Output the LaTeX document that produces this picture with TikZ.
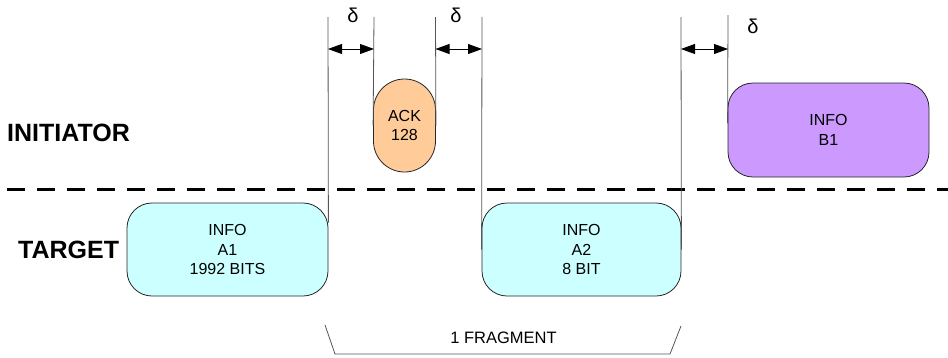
\documentclass[tikz,border=0pt]{standalone}
\usepackage{fontspec}
\setmainfont{Liberation Sans}
\usetikzlibrary{arrows.meta}

\definecolor{infocyan}{HTML}{CCFFFF}
\definecolor{ackorange}{HTML}{FFCC99}
\definecolor{infoviolet}{HTML}{CC99FF}
\definecolor{guide}{HTML}{555555}

\tikzset{
  frame/.style={draw=black!85, line width=0.8pt, rounded corners=25pt,
    inner sep=0pt, align=center, font=\fontsize{16}{19.2}\selectfont},
  rolelabel/.style={inner sep=0pt, anchor=west,
    font=\fontsize{25}{30}\selectfont\bfseries},
  guideline/.style={draw=guide, line width=0.8pt},
  gap/.style={draw=black, line width=0.8pt,
    {Triangle[length=14pt,width=10pt]}-{Triangle[length=14pt,width=10pt]}},
  deltalabel/.style={inner sep=0pt, font=\fontsize{20}{24}\selectfont},
  separator/.style={draw=black, line width=3pt, dash pattern=on 18pt off 12pt},
}

\begin{document}
\begin{tikzpicture}[x=1pt,y=-1pt]
  \useasboundingbox (0,0) rectangle (948,357);

  % frames on the two sides of the link
  \node[frame, fill=infocyan, minimum width=201pt, minimum height=93pt]
    (A1) at (227.5,249.5) {INFO\\A1\\1992 BITS};
  \node[frame, fill=infocyan, minimum width=199pt, minimum height=93pt]
    (A2) at (581.5,249.5) {INFO\\A2\\8 BIT};
  \node[frame, fill=ackorange, rounded corners=31pt,
    minimum width=62pt, minimum height=93pt]
    (ACK) at (404.5,125.5) {ACK\\128};
  \node[frame, fill=infoviolet, minimum width=201pt, minimum height=94pt]
    (B1) at (828.5,130) {INFO\\B1};

  % side labels
  \node[rolelabel] (init) at (7,132.5) {INITIATOR};
  \node[rolelabel] (targ) at (18,250) {TARGET};

  % separator between initiator and target
  \coordinate (sepL) at (7,189);
  \coordinate (sepR) at (948,189);
  \draw[separator] (sepL) -- (sepR);

  % timing guide lines
  \coordinate (g1) at (328,17);
  \coordinate (g2) at (374,17);
  \coordinate (g3) at (435.5,17);
  \coordinate (g4) at (482,17);
  \coordinate (g5) at (681,17);
  \coordinate (g6) at (728,15);
  \draw[guideline] (g1) -- ([yshift=-20pt]A1.north east);
  \draw[guideline] (g2) -- (ACK.west);
  \draw[guideline] (g3) -- (ACK.east);
  \draw[guideline] (g4) -- (A2.west);
  \draw[guideline] (g5) -- (A2.east);
  \draw[guideline] (g6) -- ([yshift=7pt]B1.west);

  % inter-frame gaps
  \coordinate (d1a) at (328,49);
  \coordinate (d1b) at (374,49);
  \coordinate (d2a) at (435.5,49);
  \coordinate (d2b) at (482,49);
  \coordinate (d3a) at (681,49);
  \coordinate (d3b) at (728,49);
  \draw[gap] (d1a) -- (d1b);
  \draw[gap] (d2a) -- (d2b);
  \draw[gap] (d3a) -- (d3b);
  \node[deltalabel] (del1) at (353,15) {δ};
  \node[deltalabel] (del2) at (456,15) {δ};
  \node[deltalabel] (del3) at (753,26) {δ};

  % fragment brace
  \coordinate (f1) at (325,325);
  \coordinate (f2) at (335,354);
  \coordinate (f3) at (670,354);
  \coordinate (f4) at (681,326);
  \draw[guideline] (f1) -- (f2) -- (f3) -- (f4);
  \node[inner sep=0pt, font=\fontsize{16.5}{20}\selectfont] (frag) at (503.5,338) {1 FRAGMENT};
\end{tikzpicture}
\end{document}
